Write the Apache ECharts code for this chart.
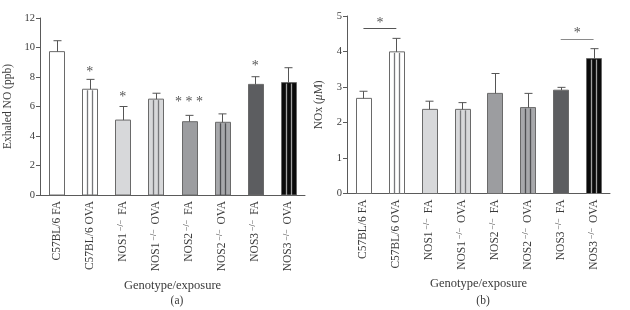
<!DOCTYPE html>
<html>
<head>
<meta charset="utf-8">
<script src="https://cdn.jsdelivr.net/npm/echarts@6/dist/echarts.min.js"></script>
<style>
  html, body { margin: 0; padding: 0; background: #fff; }
  #main { width: 630px; height: 310px; }
</style>
</head>
<body>
<div id="main"></div>
<script>
// categories shared by both panels
const categories = ['C57BL/6 FA', 'C57BL/6 OVA', 'NOS1−/− FA', 'NOS1−/− OVA',
    'NOS2−/− FA', 'NOS2−/− OVA', 'NOS3−/− FA', 'NOS3−/− OVA'];

// panel (a): exhaled NO (ppb)
const exhaledMean = [9.72, 7.17, 5.08, 6.5, 4.97, 4.93, 7.5, 7.62];
const exhaledErrTop = [10.46, 7.84, 6.0, 6.9, 5.4, 5.5, 8.02, 8.63];
const exhaledStars = [[1, 8.3, '*'], [2, 6.6, '*'], [4, 6.25, '* * *'], [6, 8.7, '*']];

// panel (b): NOx (uM)
const noxMean = [2.68, 3.99, 2.37, 2.37, 2.82, 2.42, 2.91, 3.8];
const noxErrTop = [2.88, 4.37, 2.6, 2.56, 3.38, 2.82, 2.99, 4.08];
// [from category, to category, line value, star value]
const noxBrackets = [[0, 1, 4.65, 4.8], [6, 7, 4.35, 4.5]];

const fills = ['#ffffff', '#ffffff', '#d7d8da', '#d7d8da', '#9c9da0', '#a7a8ab', '#5c5d60', '#0a0a0a'];
const striped = [false, true, false, true, false, true, false, true];
const stripeColors = ['', '#77787b', '', '#77787b', '', '#4d4e51', '', '#a0a0a0'];

const FONT = 'Liberation Serif';
const TXT = '#3a3a3a';
const AX = '#5a5a5a';
const BAR_W = 15;

const chart = echarts.init(document.getElementById('main'));

function fmtLabel(v) {
    return v.replace('−/−', '{s| −/− }');
}

function xAxis(gridIndex) {
    return {
        type: 'category', gridIndex: gridIndex, data: categories,
        axisLine: { lineStyle: { color: AX, width: 1 } },
        axisTick: { alignWithLabel: true, length: 3, lineStyle: { color: '#999' } },
        axisLabel: {
            rotate: 90, margin: 6, color: TXT, fontFamily: FONT, fontSize: 11.5,
            formatter: fmtLabel,
            rich: {
                s: { fontSize: 8, fontFamily: FONT, color: TXT, verticalAlign: 'top', lineHeight: 10 }
            }
        },
        name: 'Genotype/exposure', nameLocation: 'middle', nameGap: 84,
        nameTextStyle: { color: TXT, fontFamily: FONT, fontSize: 12.5 }
    };
}

function yAxis(gridIndex, max, interval, name, gap) {
    return {
        type: 'value', gridIndex: gridIndex, min: 0, max: max, interval: interval,
        splitLine: { show: false },
        axisLine: { show: true, lineStyle: { color: AX } },
        axisTick: { show: true, length: 4, lineStyle: { color: AX } },
        axisLabel: { color: TXT, fontFamily: FONT, fontSize: 10.5, margin: 5 },
        name: name, nameLocation: 'middle', nameGap: gap,
        nameTextStyle: {
            color: TXT, fontFamily: FONT, fontSize: 11.5,
            rich: { i: { fontStyle: 'italic', fontFamily: FONT, fontSize: 11.5, color: TXT } }
        }
    };
}

function barSeries(idx, values) {
    return {
        type: 'custom', xAxisIndex: idx, yAxisIndex: idx,
        data: values.map((v, i) => [i, v]),
        renderItem: function (params, api) {
            const i = api.value(0);
            const top = api.coord([i, api.value(1)]);
            const base = api.coord([i, 0]);
            const x0 = Math.round(top[0] - BAR_W / 2) + 0.5;
            const children = [{
                type: 'rect',
                shape: { x: x0, y: top[1], width: BAR_W, height: base[1] - top[1] },
                style: { fill: fills[i], stroke: '#6a6a6a', lineWidth: 1 }
            }];
            if (striped[i]) {
                [1, 2].forEach(k => {
                    const xs = x0 + BAR_W * k / 3;
                    children.push({
                        type: 'line',
                        shape: { x1: xs, y1: top[1] + 1, x2: xs, y2: base[1] },
                        style: { stroke: stripeColors[i], lineWidth: 1.3 }
                    });
                });
            }
            return { type: 'group', children: children };
        }
    };
}

function errSeries(idx, means, tops) {
    return {
        type: 'custom', xAxisIndex: idx, yAxisIndex: idx,
        data: means.map((v, i) => [i, v, tops[i]]),
        renderItem: function (params, api) {
            const i = api.value(0);
            const a = api.coord([i, api.value(1)]);
            const b = api.coord([i, api.value(2)]);
            const x = Math.round(a[0]) + 0.5;
            return {
                type: 'group',
                children: [
                    { type: 'line', shape: { x1: x, y1: a[1], x2: x, y2: b[1] }, style: { stroke: '#555', lineWidth: 1 } },
                    { type: 'line', shape: { x1: x - 4, y1: b[1], x2: x + 4, y2: b[1] }, style: { stroke: '#555', lineWidth: 1 } }
                ]
            };
        }
    };
}

function starSeries(idx, stars) {
    return {
        type: 'custom', xAxisIndex: idx, yAxisIndex: idx,
        data: stars.map(s => [s[0], s[1]]),
        renderItem: function (params, api) {
            const p = api.coord([api.value(0), api.value(1)]);
            return {
                type: 'text',
                style: {
                    x: p[0], y: p[1], text: stars[params.dataIndex][2],
                    textAlign: 'center', textVerticalAlign: 'middle',
                    fill: '#555', font: '14px ' + FONT
                }
            };
        }
    };
}

function bracketSeries(idx, brackets) {
    return {
        type: 'custom', xAxisIndex: idx, yAxisIndex: idx,
        data: brackets.map(b => [b[0], b[1], b[2], b[3]]),
        renderItem: function (params, api) {
            const a = api.coord([api.value(0), api.value(2)]);
            const b = api.coord([api.value(1), api.value(2)]);
            const s = api.coord([api.value(0), api.value(3)]);
            const y = Math.round(a[1]) + 0.5;
            const col = params.dataIndex === 0 ? '#555' : '#8a8a8a';
            return {
                type: 'group',
                children: [
                    { type: 'line', shape: { x1: a[0], y1: y, x2: b[0], y2: y }, style: { stroke: col, lineWidth: 1 } },
                    { type: 'text', style: { x: (a[0] + b[0]) / 2, y: s[1], text: '*', textAlign: 'center', textVerticalAlign: 'middle', fill: '#555', font: '14px ' + FONT } }
                ]
            };
        }
    };
}

chart.setOption({
    animation: false,
    backgroundColor: '#fff',
    title: [
        { text: '(a)', left: 172, top: 290, textAlign: 'center', textStyle: { color: TXT, fontFamily: FONT, fontSize: 11.5, fontWeight: 'normal' } },
        { text: '(b)', left: 478, top: 290, textAlign: 'center', textStyle: { color: TXT, fontFamily: FONT, fontSize: 11.5, fontWeight: 'normal' } }
    ],
    grid: [
        { left: 40, top: 18, width: 265, height: 177 },
        { left: 347, top: 16, width: 263, height: 177.5 }
    ],
    xAxis: [xAxis(0), xAxis(1)],
    yAxis: [
        yAxis(0, 12, 2, 'Exhaled NO (ppb)', 26),
        yAxis(1, 5, 1, 'NOx ({i|μ}M)', 22)
    ],
    series: [
        barSeries(0, exhaledMean),
        errSeries(0, exhaledMean, exhaledErrTop),
        starSeries(0, exhaledStars),
        barSeries(1, noxMean),
        errSeries(1, noxMean, noxErrTop),
        bracketSeries(1, noxBrackets)
    ]
});
</script>
</body>
</html>
